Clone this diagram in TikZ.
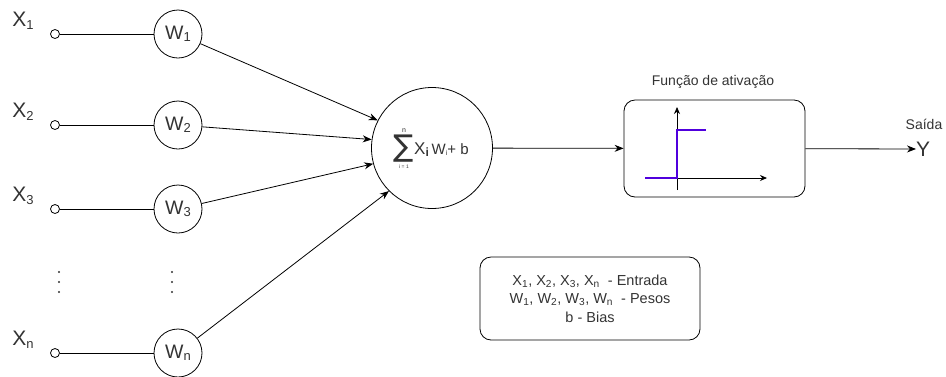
\documentclass[tikz,border=0pt]{standalone}
\usepackage{fontspec}
\setmainfont{Liberation Sans}
\newfontfamily\symfont{DejaVu Sans}
\usetikzlibrary{arrows.meta}
\definecolor{txt}{HTML}{333333}
\definecolor{stepblue}{HTML}{5000DD}
\newcommand\fsz[1]{\fontsize{#1}{#1}\selectfont}
\newcommand\lbl[4]{{\fsz{#3}#1\raisebox{-0.12em}{\fsz{#4}#2}}}
\begin{document}
\begin{tikzpicture}[x=1pt,y=-1pt,
  every node/.style={text=txt},
  wc/.style={circle,draw,line width=0.8pt,minimum size=48pt,inner sep=0pt},
  io/.style={circle,draw,line width=0.8pt,minimum size=9pt,inner sep=0pt,fill=white},
  arr/.style={line width=0.8pt,-{Stealth[length=9pt,width=7pt]}},
  ln/.style={line width=0.8pt},
  dots/.style={circle,fill=txt,minimum size=2.4pt,inner sep=0pt}]
\useasboundingbox (0,0) rectangle (946,376);
% inputs
\foreach \i/\y/\s in {1/34/1,2/125/2,3/209/3,n/353/n}{
  \node[io] (x\i) at (55,\y) {};
  \node[anchor=center] (xl\i) at (23,\y-13) {\lbl{X}{\s}{21}{13}};
  \node[wc] (w\i) at (178,\y) {\lbl{W}{\s}{19.5}{13}};
  \draw[ln] (x\i) -- (w\i);
}
% vertical dots
\foreach \xx/\nm in {59/a,172/b}{
  \node[dots] (d\nm1) at (\xx,272) {};
  \node[dots] (d\nm2) at (\xx,282) {};
  \node[dots] (d\nm3) at (\xx,292) {};
}
% sum neuron
\node[circle,draw,line width=0.8pt,minimum size=121pt,inner sep=0pt] (s) at (432,148) {};
\node (sig) at (404,149) {\symfont\fsz{30}∑};
\node (sn) at (404,131) {\fsz{7}n};
\node (si) at (404,167) {\fsz{5}i = 1};
\node[anchor=west,inner sep=0pt] (st) at (414,150) {{\fsz{17}X}\raisebox{-0.2em}{\fsz{12}\textbf{i}} {\fsz{15}W}\raisebox{-0.1em}{\fsz{7}i}{\fsz{15}+ b}};
\draw[arr] (w1) -- (s.153);
\draw[arr] (w2) -- (s.172);
\draw[arr] (w3) -- (s.195);
\draw[arr] (wn) -- (s.225);
% activation box
\node[draw,line width=0.8pt,rounded corners=11pt,minimum width=181pt,minimum height=97pt] (act) at (714.5,148.5) {};
\node (actl) at (713,82) {\fsz{14}Função de ativação};
\coordinate (ay0) at (677,190);
\coordinate (ay1) at (677,107);
\coordinate (ax0) at (677,178);
\coordinate (ax1) at (767,178);
\draw[line width=0.8pt,-{Stealth[length=7pt,width=6pt]}] (ay0) -- (ay1);
\draw[line width=0.8pt,-{Stealth[length=7pt,width=6pt]}] (ax0) -- (ax1);
\coordinate (b0) at (645,178);
\coordinate (b1) at (677,178);
\coordinate (b2) at (677,130);
\coordinate (b3) at (706,130);
\draw[stepblue,line width=2.6pt] (b0) -- (b1) -- (b2) -- (b3);
\draw[arr] (s) -- (act);
% output
\node[inner sep=0pt,anchor=west] (y) at (916,149) {\fsz{21}Y};
\node (sa) at (924,124) {\fsz{14}Saída};
\draw[arr] (act) -- (y);
% legend
\node[draw,line width=0.8pt,rounded corners=11pt,minimum width=220pt,minimum height=83pt,align=center,font=\fsz{14.5}] (leg) at (590,298.5)
 {X\textsubscript{1}, X\textsubscript{2}, X\textsubscript{3}, X\textsubscript{n}\ \ - Entrada\\[4pt]
  W\textsubscript{1}, W\textsubscript{2}, W\textsubscript{3}, W\textsubscript{n}\ \ - Pesos\\[4pt]
  b - Bias};
\end{tikzpicture}
\end{document}
